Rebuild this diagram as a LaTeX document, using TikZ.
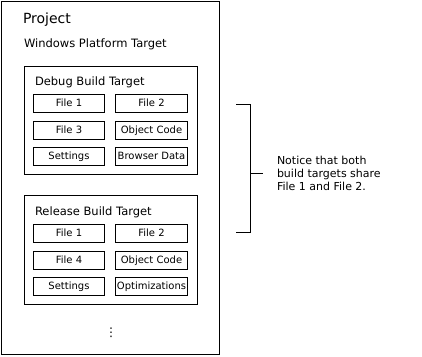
\documentclass[tikz,border=0pt]{standalone}
\usepackage{fontspec}
\setmainfont{DejaVu Sans}
\usetikzlibrary{positioning}

\begin{document}
\begin{tikzpicture}[x=1pt, y=-1pt, line width=0.9pt, every node/.style={inner sep=0pt, outer sep=0pt}]
\tikzset{
  framebox/.style={draw, minimum width=218pt, minimum height=353pt},
  targetbox/.style={draw, minimum width=173pt, minimum height=108pt},
  filebox/.style={draw, minimum width=71.5pt, minimum height=18pt, text height=7.5pt, text depth=0pt, font=\fontsize{10}{12}\selectfont},
  titletext/.style={anchor=base west, font=\fontsize{11.5}{13}\selectfont}
}
  \useasboundingbox (0,0) rectangle (422,356);
  \node[framebox] (project) at (110,177.5) {};
  \node[titletext, font=\fontsize{14}{16}\selectfont] (projtitle) at (23,23) {Project};
  \node[titletext] (platform) at (24,47) {Windows Platform Target};

  % debug target
  \node[targetbox] (debug) at (110.5,120) {};
  \node[titletext] (debugtitle) at (35,85) {Debug Build Target};
  \node[filebox] (dfileone) at (69,103) {File 1};
  \node[filebox] (dfiletwo) at (151.5,103) {File 2};
  \node[filebox] (dfilethree) at (69,130) {File 3};
  \node[filebox] (dobject) at (151.5,130) {Object Code};
  \node[filebox] (dsettings) at (69,156) {Settings};
  \node[filebox] (dbrowser) at (151.5,156) {Browser Data};

  % release target
  \node[targetbox, minimum height=109pt] (release) at (110.5,249.5) {};
  \node[titletext] (releasetitle) at (35,215) {Release Build Target};
  \node[filebox] (rfileone) at (69,233) {File 1};
  \node[filebox] (rfiletwo) at (151.5,233) {File 2};
  \node[filebox] (rfilefour) at (69,260) {File 4};
  \node[filebox] (robject) at (151.5,260) {Object Code};
  \node[filebox] (rsettings) at (69,286) {Settings};
  \node[filebox] (roptim) at (151.5,286) {Optimizations};

  \node[font=\fontsize{12}{14}\selectfont] (more) at (111,333) {⋮};

  % bracket and note
  \coordinate (brtop) at (236,104);
  \coordinate (brbot) at (236,232);
  \coordinate (brmid) at (250,173);
  \draw (brtop) -- ++(14,0) |- (brbot);
  \draw (brmid) -- ++(13,0);
  \node[anchor=west, align=left, font=\fontsize{11}{13}\selectfont] (note) at (277,173) {Notice that both\\build targets share\\File 1 and File 2.};
\end{tikzpicture}
\end{document}
